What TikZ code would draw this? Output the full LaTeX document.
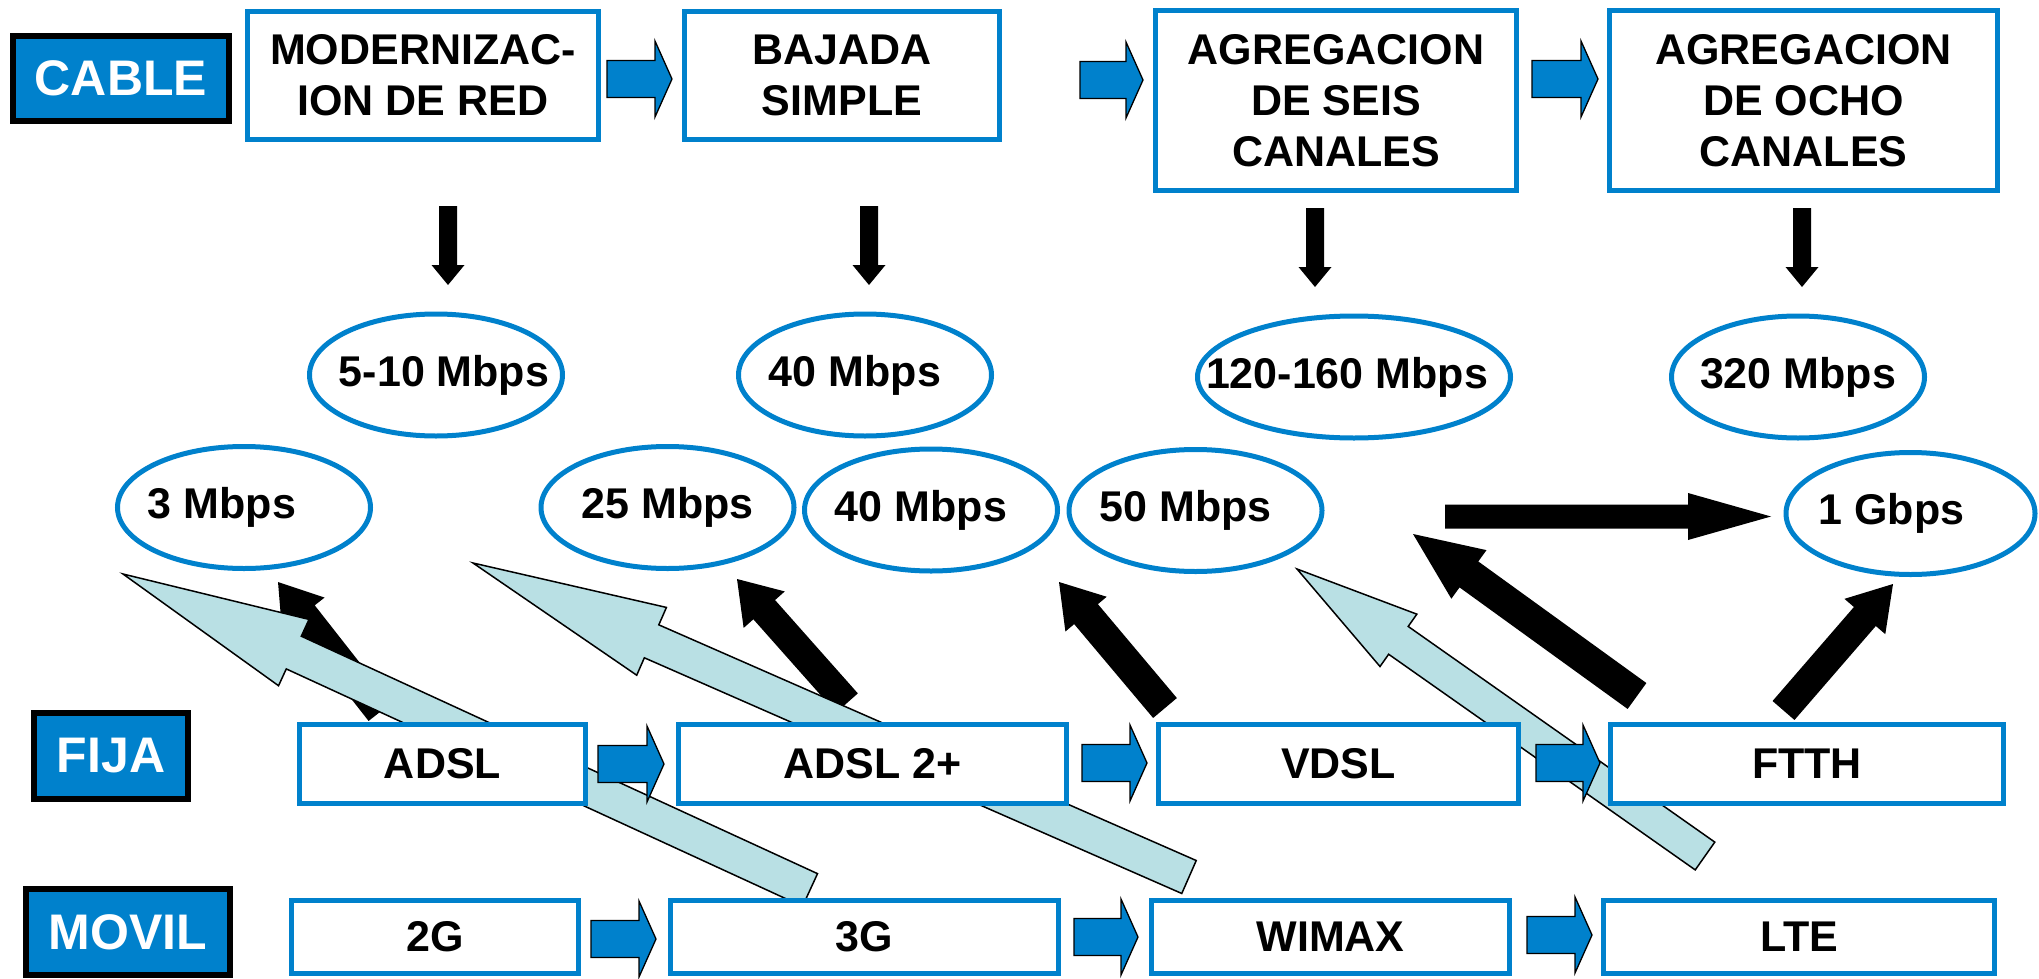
\documentclass[tikz,border=0pt]{standalone}
\usepackage{fontspec}
\setmainfont{Liberation Sans}
\usetikzlibrary{shapes.geometric,calc}
\definecolor{cblue}{RGB}{0,129,204}
\definecolor{lblue}{RGB}{185,224,228}
% #1 style, #2 tail, #3 tip, #4 shaft half width, #5 head half width, #6 head length
\newcommand\blockarr[6]{%
  \coordinate (bab) at ($(#3)!#6!(#2)$);
  \path[#1] ($(#2)!#4!90:(#3)$) -- ($(bab)!#4!90:(#3)$) -- ($(bab)!#5!90:(#3)$) -- (#3)
    -- ($(bab)!#5!-90:(#3)$) -- ($(bab)!#4!-90:(#3)$) -- ($(#2)!#4!-90:(#3)$) -- cycle;}
\newcommand\shtext[2]{\makebox[0pt]{\hspace*{#2}#1}}
\begin{document}
\begin{tikzpicture}[x=1pt,y=-1pt,
  box/.style={draw=cblue, line width=5pt, fill=white, inner sep=0pt, align=center,
    font=\fontsize{43pt}{51pt}\selectfont\bfseries},
  lab/.style={draw=black, line width=6pt, fill=cblue, text=white, inner sep=0pt,
    font=\fontsize{50pt}{60pt}\selectfont\bfseries},
  oval/.style={ellipse, draw=cblue, line width=5pt, inner sep=0pt,
    minimum width=253pt, minimum height=122pt, font=\fontsize{43pt}{51pt}\selectfont\bfseries},
  barrow/.style={fill=cblue, draw=black, line width=1.3pt},
  karrow/.style={fill=black},
  larrow/.style={fill=lblue, draw=black, line width=1.5pt}
]
\useasboundingbox (0,0) rectangle (2039,979);

% ellipses
\node[oval] (e510) at (436,375) {\shtext{5-10 Mbps}{16pt}};
\node[oval] (e40a) at (865,375) {\shtext{40 Mbps}{-20pt}};
\node[oval, minimum width=313pt] (e120) at (1354,377) {\shtext{120-160 Mbps}{-14pt}};
\node[oval] (e320) at (1798,377) {\shtext{320 Mbps}{0pt}};
\node[oval] (e3) at (244,507.5) {\shtext{3 Mbps}{-44pt}};
\node[oval] (e25) at (667.5,507.5) {\shtext{25 Mbps}{0pt}};
\node[oval] (e40b) at (931,510) {\shtext{40 Mbps}{-20pt}};
\node[oval] (e50) at (1195.5,510.5) {\shtext{50 Mbps}{-20pt}};
\node[oval, minimum width=249pt] (e1g) at (1910.5,513.5) {\shtext{1 Gbps}{-38pt}};

% arrow end points
\coordinate (d1s) at (448,206); \coordinate (d1e) at (448,285);
\coordinate (d2s) at (869,206); \coordinate (d2e) at (869,285);
\coordinate (d3s) at (1315,208); \coordinate (d3e) at (1315,287);
\coordinate (d4s) at (1802,208); \coordinate (d4e) at (1802,287);
\coordinate (kDs) at (380,712); \coordinate (kDe) at (278,582);
\coordinate (kEs) at (847,703); \coordinate (kEe) at (737,579);
\coordinate (kFs) at (1165,708); \coordinate (kFe) at (1059,582);
\coordinate (kGs) at (1637,696); \coordinate (kGe) at (1413,534);
\coordinate (kHs) at (1783.5,710.5); \coordinate (kHe) at (1893,584);
\coordinate (kIs) at (1445,516.5); \coordinate (kIe) at (1771,516.5);
\coordinate (lAs) at (810,890); \coordinate (lAe) at (123,574);
\coordinate (lBs) at (1189,877); \coordinate (lBe) at (473,563);
\coordinate (lCs) at (1705,856); \coordinate (lCe) at (1297,569);
\coordinate (a1s) at (607,79); \coordinate (a1e) at (672,79);
\coordinate (a2s) at (1080,80); \coordinate (a2e) at (1143,80);
\coordinate (a3s) at (1532,79); \coordinate (a3e) at (1598,79);
\coordinate (f1s) at (598,764); \coordinate (f1e) at (664,764);
\coordinate (f2s) at (1082,763); \coordinate (f2e) at (1147,763);
\coordinate (f3s) at (1536,763); \coordinate (f3e) at (1600,763);
\coordinate (m1s) at (591,939); \coordinate (m1e) at (656,939);
\coordinate (m2s) at (1074,937); \coordinate (m2e) at (1138,937);
\coordinate (m3s) at (1527,935); \coordinate (m3e) at (1592,935);

% thin down arrows
\blockarr{karrow}{d1s}{d1e}{9pt}{16.5pt}{20pt}
\blockarr{karrow}{d2s}{d2e}{9pt}{16.5pt}{20pt}
\blockarr{karrow}{d3s}{d3e}{9pt}{16.5pt}{20pt}
\blockarr{karrow}{d4s}{d4e}{9pt}{16.5pt}{20pt}

% thick black arrows
\blockarr{karrow}{kDs}{kDe}{14.5pt}{27pt}{41pt}
\blockarr{karrow}{kEs}{kEe}{14.5pt}{27.5pt}{41pt}
\blockarr{karrow}{kFs}{kFe}{15.5pt}{27pt}{42pt}
\blockarr{karrow}{kGs}{kGe}{16pt}{30pt}{69pt}
\blockarr{karrow}{kHs}{kHe}{14.5pt}{27pt}{43pt}
\blockarr{karrow}{kIs}{kIe}{12pt}{23.5pt}{83pt}

% light blue arrows
\blockarr{larrow}{lAs}{lAe}{18pt}{36.5pt}{188pt}
\blockarr{larrow}{lBs}{lBe}{18pt}{37pt}{195pt}
\blockarr{larrow}{lCs}{lCe}{17pt}{32pt}{124pt}

% blue block arrows
\blockarr{barrow}{a1s}{a1e}{18.5pt}{38pt}{17pt}
\blockarr{barrow}{a2s}{a2e}{18.5pt}{38pt}{17pt}
\blockarr{barrow}{a3s}{a3e}{18.5pt}{38pt}{17pt}
\blockarr{barrow}{f1s}{f1e}{18.5pt}{38pt}{17pt}
\blockarr{barrow}{f2s}{f2e}{18.5pt}{38pt}{17pt}
\blockarr{barrow}{f3s}{f3e}{18.5pt}{38pt}{17pt}
\blockarr{barrow}{m1s}{m1e}{18.5pt}{38pt}{17pt}
\blockarr{barrow}{m2s}{m2e}{18.5pt}{38pt}{17pt}
\blockarr{barrow}{m3s}{m3e}{18.5pt}{38pt}{17pt}

% top row
\node[box, minimum width=351pt, minimum height=128pt] (b1) at (423,75.5) {MODERNIZAC-\\ION DE RED};
\node[box, minimum width=315pt, minimum height=128pt] (b2) at (842,75.5) {BAJADA\\SIMPLE};
\node[box, minimum width=361pt, minimum height=180pt] (b3) at (1336,100.5) {AGREGACION\\DE SEIS\\CANALES};
\node[box, minimum width=388pt, minimum height=180pt] (b4) at (1803.5,100.5) {AGREGACION\\DE OCHO\\CANALES};

% fija row
\node[box, minimum width=286pt, minimum height=79pt] (adsl) at (442.5,764) {ADSL};
\node[box, minimum width=388pt, minimum height=79pt] (adsl2) at (872.5,764) {ADSL 2+};
\node[box, minimum width=360pt, minimum height=79pt] (vdsl) at (1338.5,764) {VDSL};
\node[box, minimum width=393pt, minimum height=79pt] (ftth) at (1807,764) {FTTH};

% movil row
\node[box, minimum width=287pt, minimum height=73pt] (g2) at (435,937) {2G};
\node[box, minimum width=388pt, minimum height=73pt] (g3) at (864.5,937) {3G};
\node[box, minimum width=358pt, minimum height=73pt] (wimax) at (1330.5,937) {WIMAX};
\node[box, minimum width=391pt, minimum height=73pt] (lte) at (1799,937) {LTE};

% labels
\node[lab, minimum width=216pt, minimum height=85pt] (cable) at (121,78.5) {CABLE};
\node[lab, minimum width=154pt, minimum height=86pt] (fija) at (111,756) {FIJA};
\node[lab, minimum width=204pt, minimum height=86pt] (movil) at (128,932) {MOVIL};
\end{tikzpicture}
\end{document}
